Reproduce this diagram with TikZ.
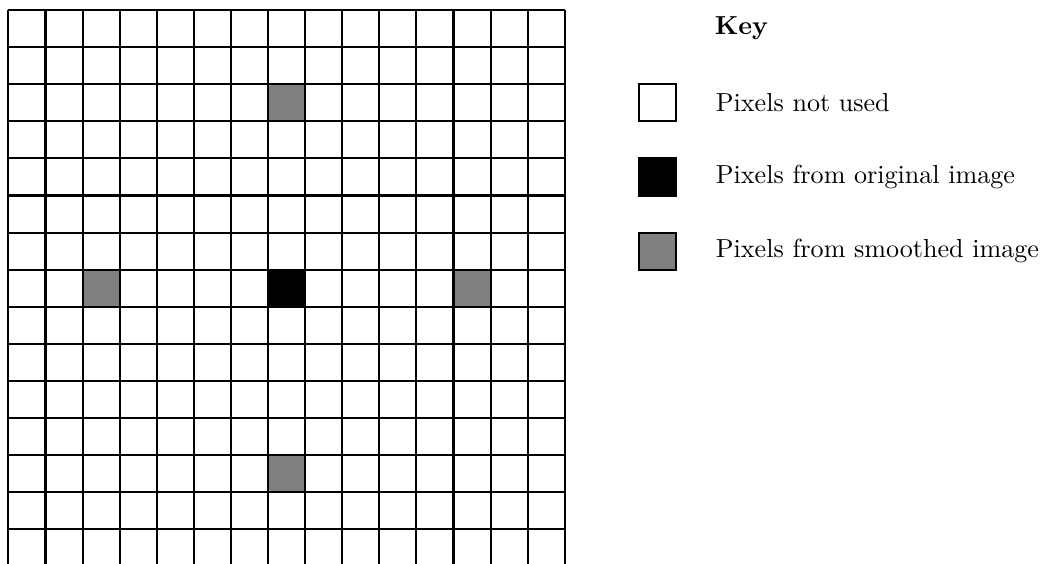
\documentclass[tikz,border=0pt]{standalone}
\usepackage{tikz}
\usetikzlibrary{positioning}
\tikzset{
  keybox/.style={draw,thick,minimum size=5mm,inner sep=0pt},
  keylbl/.style={anchor=west,font=\normalsize},
  grid line/.style={thick}
}
\definecolor{smoothgray}{gray}{0.5}

\begin{document}
\begin{tikzpicture}
\useasboundingbox (-0.113,0.045) rectangle (13.987,7.635);
% filled pixels
\fill[black] (3.5,3.5) rectangle ++(0.5,0.5);
\foreach \px/\py in {3.5/6,1/3.5,6/3.5,3.5/1}
  \fill[smoothgray] (\px,\py) rectangle ++(0.5,0.5);
% pixel grid
\draw[grid line] (0,0) grid[step=0.5] (7.5,7.5);
% key
\node[keylbl,font=\bfseries] (key) at (9.4,7.25) {Key};
\node[keybox,fill=white] (kunused) at (8.75,6.25) {};
\node[keybox,fill=black] (korig) at (8.75,5.25) {};
\node[keybox,fill=smoothgray] (ksmooth) at (8.75,4.25) {};
\node[keylbl,right=4mm of kunused] (lunused) {Pixels not used};
\node[keylbl,right=4mm of korig] (lorig) {Pixels from original image};
\node[keylbl,right=4mm of ksmooth] (lsmooth) {Pixels from smoothed image};
\end{tikzpicture}
\end{document}
